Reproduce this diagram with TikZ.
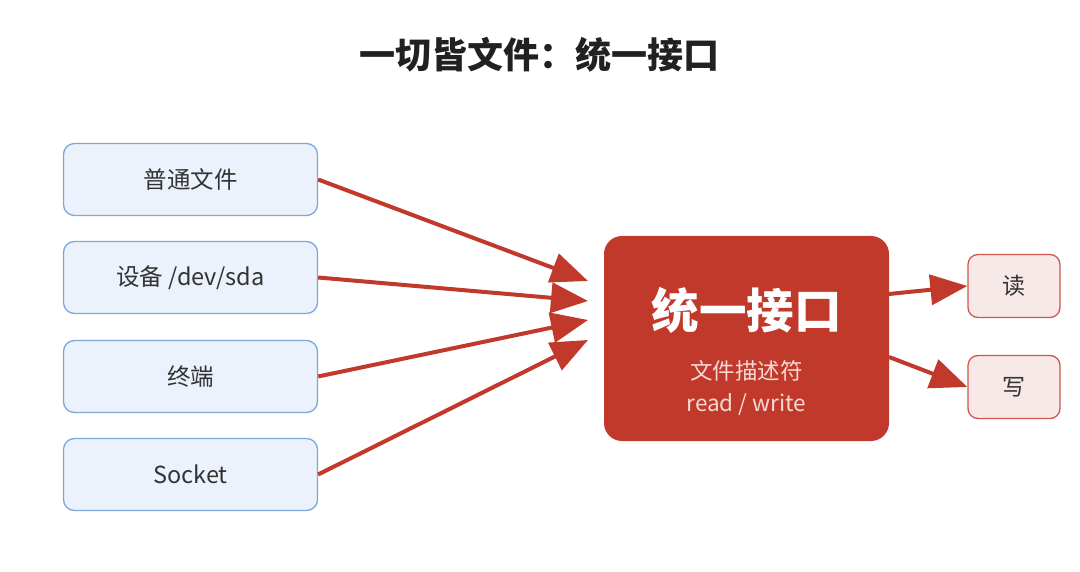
\documentclass[tikz,border=0pt]{standalone}
\usepackage{fontspec}
\setmainfont{Noto Sans CJK SC}
\usetikzlibrary{arrows.meta}
\definecolor{srcfill}{HTML}{EBF2FC}
\definecolor{srcdraw}{HTML}{7EA7DC}
\definecolor{hubred}{HTML}{C0392B}
\definecolor{outfill}{HTML}{F6E9E7}
\definecolor{outdraw}{HTML}{D0574D}
\definecolor{txt}{HTML}{333333}
\definecolor{subtxt}{HTML}{F7D9D4}
\tikzset{
  srcbox/.style={draw=srcdraw, fill=srcfill, line width=1.3pt, rounded corners=11pt,
    minimum width=254pt, minimum height=72pt, inner sep=0pt, text=txt, font=\fontsize{23.5}{27}\selectfont},
  outbox/.style={draw=outdraw, fill=outfill, line width=1.3pt, rounded corners=10pt,
    minimum width=92pt, minimum height=63pt, inner sep=0pt, text=txt, font=\fontsize{23}{27}\selectfont},
  hubbox/.style={fill=hubred, rounded corners=18pt, minimum width=285pt, minimum height=205pt, inner sep=0pt},
  link/.style={draw=hubred, line width=4pt, -{Triangle[length=37pt,width=30pt]}}
}
\begin{document}
\begin{tikzpicture}[x=1pt,y=-1pt]
\useasboundingbox (0,0) rectangle (1080,572);
\fill[white] (0,0) rectangle (1080,572);
\node[font=\fontsize{36}{40}\selectfont\bfseries, text=black!87] (title) at (539,55) {一切皆文件：统一接口};
\node[srcbox] (s1) at (190.5,179.5) {普通文件};
\node[srcbox] (s2) at (190.5,277.5) {设备 /dev/sda};
\node[srcbox] (s3) at (190.5,376.5) {终端};
\node[srcbox] (s4) at (190.5,474.5) {Socket};
\node[hubbox] (hub) at (746.5,338.5) {};
\node[text=white, font=\fontsize{47.5}{52}\selectfont\bfseries] (hubt) at (746.5,310) {统一接口};
\node[text=subtxt, font=\fontsize{22.5}{26}\selectfont] (hubs1) at (746.5,371) {文件描述符};
\node[text=subtxt, font=\fontsize{22.5}{26}\selectfont] (hubs2) at (746.5,405) {read / write};
\node[outbox] (r) at (1014,286) {读};
\node[outbox] (w) at (1014,387) {写};
\coordinate (t1) at (588,281);
\coordinate (t2) at (588,301);
\coordinate (t3) at (588,320);
\coordinate (t4) at (588,340);
\coordinate (o1) at (889,294);
\coordinate (o2) at (889,357);
\draw[link] (s1.east) -- (t1);
\draw[link] (s2.east) -- (t2);
\draw[link] (s3.east) -- (t3);
\draw[link] (s4.east) -- (t4);
\draw[link] (o1) -- (r.west);
\draw[link] (o2) -- (w.west);
\end{tikzpicture}
\end{document}
